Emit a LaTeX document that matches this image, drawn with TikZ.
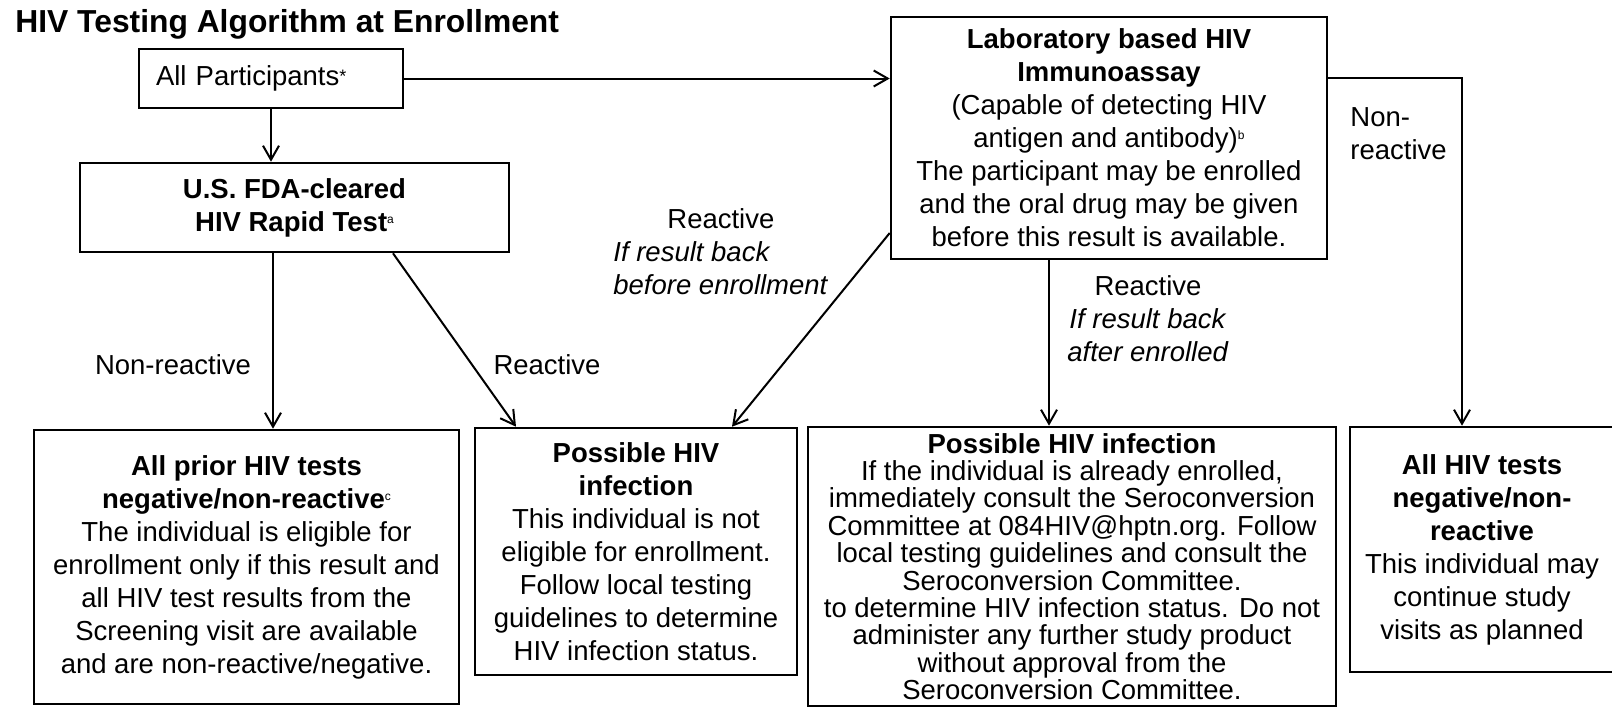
\documentclass[tikz,border=0pt]{standalone}
\usepackage{fontspec}
\setmainfont{Liberation Sans}
\usetikzlibrary{arrows.meta,calc}

\newcommand{\fnote}[1]{\raisebox{0.55ex}{\fontsize{6pt}{6pt}\selectfont #1}}

\begin{document}
\begin{tikzpicture}[
  x=0.5pt, y=-0.5pt,
  every node/.style={font=\fontsize{13.75pt}{16.5pt}\selectfont, align=center, inner sep=0pt},
  box/.style={draw, line width=1.3pt},
  tight/.style={font=\fontsize{13.75pt}{13.7pt}\selectfont},
  arr/.style={line width=1pt, -{Straight Barb[length=7pt,width=8pt]}}
]
\useasboundingbox (0,0) rectangle (1612,707);

\node[anchor=base west, font=\fontsize{15.9pt}{19pt}\selectfont\bfseries] (title) at (15,32) {HIV Testing Algorithm at Enrollment};

% top row
\node[box, minimum width=132pt, minimum height=29.5pt, text width=115pt, align=left, inner xsep=8.5pt] (allpart) at (271,78.5) {All Participants\raisebox{0.2ex}{\fontsize{9pt}{9pt}\selectfont *}};
\node[box, minimum width=214.5pt, minimum height=44.5pt] (rapid) at (294.5,207.5) {\textbf{U.S. FDA-cleared}\\\textbf{HIV Rapid Test}\fnote{a}};
\node[box, minimum width=218pt, minimum height=121pt] (lab) at (1109,138) {\textbf{Laboratory based HIV}\\\textbf{Immunoassay}\\(Capable of detecting HIV\\antigen and antibody)\fnote{b}\\The participant may be enrolled\\and the oral drug may be given\\before this result is available.};

% bottom row
\node[box, minimum width=212.5pt, minimum height=137pt] (prior) at (246.5,567) {\textbf{All prior HIV tests}\\\textbf{negative/non-reactive}\fnote{c}\\The individual is eligible for\\enrollment only if this result and\\all HIV test results from the\\Screening visit are available\\and are non-reactive/negative.};
\node[box, minimum width=161pt, minimum height=123.5pt] (possible) at (636,551.5) {\textbf{Possible HIV}\\\textbf{infection}\\This individual is not\\eligible for enrollment.\\Follow local testing\\guidelines to determine\\HIV infection status.};
\node[box, tight, minimum width=264pt, minimum height=139.5pt] (infect) at (1072,566.5) {\textbf{Possible HIV infection}\\If the individual is already enrolled,\\immediately consult the Seroconversion\\Committee at 084HIV@hptn.org. Follow\\local testing guidelines and consult the\\Seroconversion Committee.\\to determine HIV infection status. Do not\\administer any further study product\\without approval from the\\Seroconversion Committee.};
\node[box, minimum width=132pt, minimum height=122.5pt] (allneg) at (1482,549.5) {\textbf{All HIV tests}\\\textbf{negative/non-}\\\textbf{reactive}\\This individual may\\continue study\\visits as planned};

% labels
\node (nrlab) at (173,365) {Non-reactive};
\node (rlab) at (547,365) {Reactive};
\node[anchor=west, align=left] (beflab) at (613,251.5) {\hspace*{27pt}Reactive\\\textit{If result back}\\\textit{before enrollment}};
\node (aftlab) at (1148,318.5) {Reactive\\\textit{If result back}\\\textit{after enrolled}};
\node[anchor=west, align=left] (nrlab2) at (1350,133.5) {Non-\\reactive};

% arrows
\coordinate (turn) at (1462,78);
\draw[arr] (allpart.south) -- (allpart.south |- rapid.north);
\draw[arr] (allpart.east) -- (allpart.east -| lab.west);
\draw[arr] ($(rapid.south)+(-21.5,0)$) coordinate (a1) -- (a1 |- prior.north);
\draw[arr] ($(rapid.south)+(98.5,0)$) -- ($(possible.north)+(-120,0)$);
\draw[arr] ($(lab.west)+(0,95)$) -- ($(possible.north)+(96,0)$);
\draw[arr] ($(lab.south)+(-60,0)$) coordinate (a2) -- (a2 |- infect.north);
\draw[arr] (lab.east |- turn) -- (turn) -- (turn |- allneg.north);
\end{tikzpicture}
\end{document}
